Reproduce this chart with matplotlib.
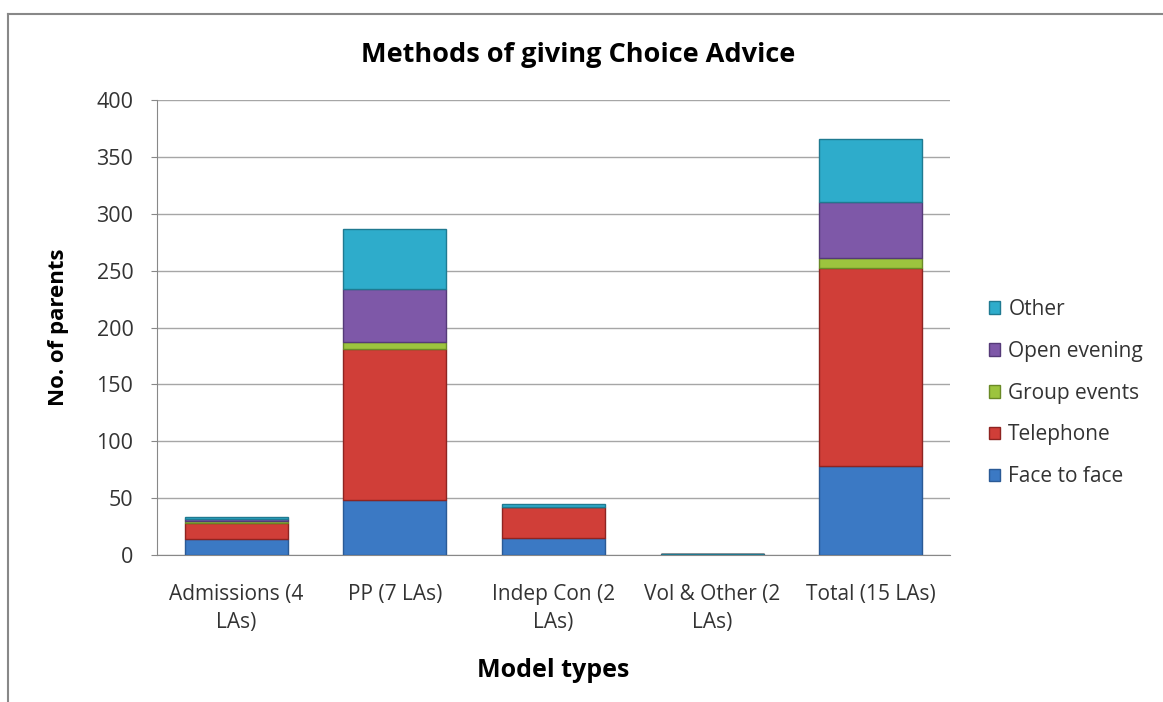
import numpy as np
import matplotlib
matplotlib.use("Agg")
import matplotlib.pyplot as plt
from matplotlib.lines import Line2D
from matplotlib.patches import Patch

plt.rcParams['font.family'] = ['Open Sans', 'DejaVu Sans']

# Data
categories = ['Admissions (4\nLAs)', 'PP (7 LAs)', 'Indep Con (2\nLAs)',
              'Vol & Other (2\nLAs)', 'Total (15 LAs)']
face_to_face = [14, 48, 15, 1, 78]
telephone = [14, 133, 27, 0, 174]
group_events = [2, 6, 0, 0, 9]
open_evening = [2, 47, 0, 0, 49]
other = [1, 53, 3, 0, 56]

series = [
    ('Face to face', face_to_face, '#3b79c4', '#2a5a96'),
    ('Telephone', telephone, '#d03e38', '#8e2421'),
    ('Group events', group_events, '#9cc43e', '#6a8a26'),
    ('Open evening', open_evening, '#7e58a8', '#553a78'),
    ('Other', other, '#2eaccb', '#1f7a91'),
]

fig = plt.figure(figsize=(11.63, 7.02), dpi=100)
ax = fig.add_axes([0.135, 0.2094, 0.6819, 0.6481])

x = np.arange(len(categories))
bottom = np.zeros(len(categories))
for name, vals, color, edge in series:
    vals = np.array(vals, dtype=float)
    ax.bar(x, vals, 0.65, bottom=bottom, color=color, edgecolor=edge,
           linewidth=1.0, label=name, zorder=3)
    bottom += vals

ax.set_xlim(-0.5, len(categories) - 0.5)
ax.set_ylim(0, 400)
ax.set_yticks(range(0, 401, 50))
ax.set_xticks(x)
ax.set_xticklabels(categories, fontsize=15, color='#333333', linespacing=1.45)
ax.tick_params(axis='y', labelsize=15.5, colors='#333333', length=4, color='#888888', pad=13)
ax.tick_params(axis='x', length=0, pad=21)
ax.grid(axis='y', color='#a6a6a6', linewidth=1, zorder=0)

for s in ['top', 'right']:
    ax.spines[s].set_visible(False)
for s in ['left', 'bottom']:
    ax.spines[s].set_color('#888888')

ax.set_ylabel('No. of parents', fontsize=16, fontweight='bold', labelpad=20)
ax.set_xlabel('Model types', fontsize=18, fontweight='bold', labelpad=18)
fig.text(0.497, 0.922, 'Methods of giving Choice Advice', ha='center', va='center',
         fontsize=19.5, fontweight='bold')

handles = [Patch(facecolor=c, edgecolor=e) for _, _, c, e in series][::-1]
labels = [n for n, _, _, _ in series][::-1]
fig.legend(handles, labels, loc='center left', bbox_to_anchor=(0.85, 0.44),
           frameon=False, fontsize=15, handlelength=0.55, handleheight=0.55,
           handletextpad=0.4, labelspacing=1.0, labelcolor='#333333',
           borderaxespad=0, borderpad=0)

# outer chart border (left and top edges visible)
fig.add_artist(Line2D([8 / 1163, 8 / 1163], [0, 1 - 14 / 702], color='#888888', linewidth=1.5))
fig.add_artist(Line2D([8 / 1163, 1], [1 - 14 / 702, 1 - 14 / 702], color='#888888', linewidth=1.5))

fig.savefig('out.png', dpi=100)
